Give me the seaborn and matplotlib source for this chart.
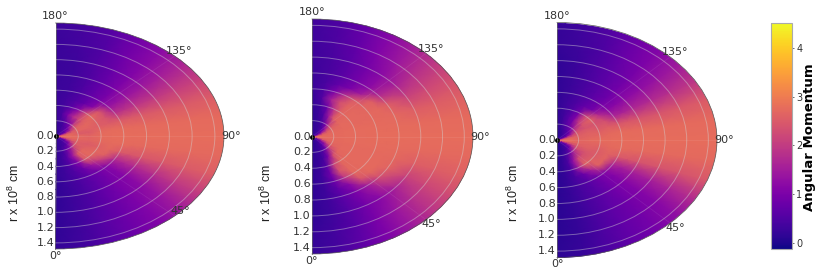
import numpy as np
import seaborn as sns
from matplotlib import pyplot as plt
from matplotlib import cm
from matplotlib.colors import Normalize

# polar grid the values were read on
theta_deg = [0, 10, 20, 30, 40, 50, 60, 70, 80, 90, 100, 110, 120, 130, 140, 150, 160, 170, 180]
radius = [0, .05, .1, .15, .2, .3, .4, .5, .6, .7, .8, 1.0, 1.2, 1.6]

r_ticks = [0, .2, .4, .6, .8, 1.0, 1.2, 1.4]
r_labels = ['0.0', '0.2', '0.4', '0.6', '0.8', '1.0', '1.2', '1.4']
theta_ticks = [0, 45, 90, 135, 180]
theta_labels = ['0°', '45°', '90°', '135°', '180°']
theta_labels_left = ['0°', '', '90°', '135°', '180°']
cbar_ticks = [0, 1, 2, 3, 4]

# angular momentum, one row per radius
am_left = [
    [.3, .3, .3, .4, .5, .8, 1.5, 2.4, 2.75, 2.78, 2.75, 2.4, 1.5, .8, .5, .4, .3, .3, .3],
    [.2, .2, .2, .3, .3, .4, .6, 1.5, 2.6, 2.78, 2.6, 1.5, .6, .4, .3, .3, .2, .2, .2],
    [.2, .2, .25, .3, .4, .5, 1, 2.2, 2.72, 2.78, 2.72, 2.2, 1, .6, .5, .4, .3, .25, .2],
    [.2, .2, .3, .4, .6, 1, 1.8, 2.5, 2.72, 2.72, 2.72, 2.5, 1.8, 1.2, .7, .5, .3, .25, .2],
    [.2, .25, .4, .8, 1.2, 2.1, 2.5, 2.6, 2.7, 2.7, 2.5, 2.65, 2.6, 2.2, 1.1, .8, .4, .3, .2],
    [.2, .3, .6, 1.4, 2.5, 2.7, 2.6, 2.5, 2.65, 2.65, 2.5, 2.65, 2.7, 2.5, 2.1, 1.7, 1, .4, .25],
    [.2, .3, .6, 1.1, 2.5, 2.7, 2.7, 2.6, 2.7, 2.75, 2.7, 2.55, 2.6, 2.75, 2.1, 1.1, .6, .35, .25],
    [.2, .3, .5, .8, 1.4, 2, 2.6, 2.7, 2.75, 2.78, 2.75, 2.5, 2.4, 2.4, 1.1, .7, .5, .35, .25],
    [.15, .3, .45, .7, .9, 1.2, 1.75, 2.5, 2.75, 2.78, 2.75, 2.5, 1.85, 1.35, .95, .7, .45, .3, .25],
    [.15, .28, .45, .65, .9, 1.15, 1.7, 2.45, 2.72, 2.78, 2.74, 2.5, 1.85, 1.35, .95, .7, .45, .3, .25],
    [.15, .28, .45, .7, .95, 1.15, 1.7, 2.45, 2.72, 2.78, 2.74, 2.5, 1.9, 1.4, 1, .7, .45, .3, .25],
    [.15, .3, .5, .75, 1, 1.25, 1.8, 2.45, 2.72, 2.78, 2.74, 2.5, 1.95, 1.45, 1.05, .75, .5, .3, .25],
    [.15, .3, .55, .8, 1.05, 1.4, 1.95, 2.5, 2.72, 2.78, 2.74, 2.5, 2.05, 1.55, 1.15, .85, .5, .35, .25],
    [.2, .35, .6, .9, 1.15, 1.6, 2.1, 2.55, 2.72, 2.78, 2.74, 2.55, 2.15, 1.7, 1.25, .9, .6, .4, .3],
]
am_middle = [
    [.3, .3, .3, .4, .5, .8, 1.5, 2.4, 2.75, 2.78, 2.75, 2.4, 1.5, .8, .5, .4, .3, .3, .3],
    [.15, .15, .2, .25, .3, .4, .7, 1.6, 2.6, 2.78, 2.6, 1.6, .7, .4, .3, .25, .2, .15, .15],
    [.15, .15, .2, .3, .4, .7, 1.4, 2.4, 2.72, 2.78, 2.72, 2.4, 1.4, .7, .4, .3, .2, .2, .15],
    [.15, .2, .25, .35, .6, 1.2, 2.1, 2.65, 2.72, 2.72, 2.72, 2.65, 2.2, 1.3, .6, .35, .25, .2, .15],
    [.15, .2, .3, .45, 1, 2.1, 2.6, 2.7, 2.72, 2.72, 2.72, 2.7, 2.6, 2.2, 1.1, .5, .3, .2, .15],
    [.15, .2, .35, 1, 2.3, 2.68, 2.72, 2.72, 2.75, 2.75, 2.75, 2.72, 2.72, 2.68, 2.5, 1.4, .5, .25, .15],
    [.15, .25, .6, 2.1, 2.68, 2.72, 2.72, 2.72, 2.75, 2.75, 2.75, 2.72, 2.7, 2.7, 2.6, 1.9, .8, .3, .2],
    [.15, .3, .9, 2.4, 2.7, 2.72, 2.72, 2.72, 2.75, 2.75, 2.75, 2.72, 2.7, 2.7, 2.65, 2.3, 1.5, .5, .2],
    [.15, .3, .8, 1.9, 2.7, 2.72, 2.72, 2.72, 2.75, 2.78, 2.75, 2.72, 2.7, 2.65, 2.5, 1.8, 1, .45, .25],
    [.15, .3, .7, 1.2, 2.4, 2.7, 2.72, 2.72, 2.75, 2.78, 2.75, 2.72, 2.7, 2.55, 1.5, 1, .7, .4, .25],
    [.15, .3, .6, 1, 1.5, 2.3, 2.65, 2.7, 2.75, 2.78, 2.75, 2.7, 2.55, 1.75, 1.2, .9, .6, .4, .25],
    [.15, .3, .55, .9, 1.2, 1.6, 2.1, 2.55, 2.72, 2.78, 2.74, 2.55, 2.1, 1.6, 1.2, .9, .6, .4, .3],
    [.2, .35, .6, 1, 1.4, 1.8, 2.2, 2.55, 2.72, 2.78, 2.74, 2.55, 2.2, 1.8, 1.4, 1.05, .7, .45, .3],
    [.2, .4, .75, 1.1, 1.5, 1.95, 2.3, 2.6, 2.72, 2.78, 2.74, 2.6, 2.35, 2, 1.6, 1.2, .8, .5, .35],
]
am_right = [
    [.3, .3, .3, .4, .5, .8, 1.5, 2.4, 2.75, 2.78, 2.75, 2.4, 1.5, .8, .5, .4, .3, .3, .3],
    [.1, .1, .15, .2, .3, .4, .7, 1.7, 2.6, 2.78, 2.6, 1.7, .7, .4, .3, .2, .15, .1, .1],
    [.1, .1, .15, .25, .3, .5, .9, 2.1, 2.72, 2.78, 2.72, 2.1, .9, .5, .4, .3, .2, .1, .1],
    [.1, .15, .2, .3, .5, .8, 1.5, 2.3, 2.72, 2.72, 2.72, 2.3, 1.5, .9, .6, .45, .3, .2, .15],
    [.1, .15, .3, .5, 1, 1.7, 2.3, 2.5, 2.65, 2.65, 2.6, 2.5, 2.3, 1.7, 1, .7, .5, .25, .15],
    [.1, .2, .45, 1.3, 2.2, 2.3, 2.4, 2.6, 2.65, 2.72, 2.65, 2.6, 2.4, 2.4, 1.9, 1, .6, .3, .15],
    [.1, .2, .5, 1.6, 2.65, 2.6, 2.5, 2.5, 2.65, 2.75, 2.65, 2.5, 2.4, 2.65, 2.1, .9, .5, .3, .15],
    [.1, .2, .45, .8, 1.5, 2.6, 2.65, 2.65, 2.72, 2.78, 2.72, 2.55, 2.3, 1.7, .9, .7, .45, .3, .15],
    [.1, .2, .4, .6, .9, 1.2, 1.7, 2.5, 2.75, 2.78, 2.75, 2.45, 1.65, 1.15, .85, .6, .4, .25, .15],
    [.1, .2, .4, .6, .85, 1.1, 1.55, 2.45, 2.72, 2.78, 2.74, 2.45, 1.6, 1.15, .8, .6, .4, .25, .15],
    [.1, .2, .4, .6, .85, 1.1, 1.55, 2.4, 2.72, 2.78, 2.74, 2.4, 1.65, 1.2, .85, .6, .4, .25, .15],
    [.1, .2, .4, .65, .85, 1.1, 1.55, 2.4, 2.72, 2.78, 2.74, 2.4, 1.7, 1.25, .9, .65, .45, .25, .15],
    [.1, .2, .45, .7, .9, 1.15, 1.65, 2.4, 2.72, 2.78, 2.74, 2.45, 1.8, 1.35, 1, .75, .45, .3, .2],
    [.15, .25, .5, .75, 1, 1.35, 1.85, 2.5, 2.72, 2.78, 2.74, 2.55, 2, 1.55, 1.15, .85, .55, .35, .2],
]

# panel centre and half sizes in pixels, then the x of its radius label
panels = [
    (am_left, theta_labels_left, 55.5, 136, 168.5, 113, 14),
    (am_middle, theta_labels, 312, 136.5, 161, 117.5, 266),
    (am_right, theta_labels, 557, 140, 160, 117.5, 513),
]

W, H = 831, 271
R_MAX = 1.48
VMIN, VMAX = -0.13, 4.5

sns.set_theme(style="white", font="DejaVu Sans")
plt.rcParams['mathtext.default'] = 'regular'
cmap = sns.color_palette("plasma", as_cmap=True)
norm = Normalize(vmin=VMIN, vmax=VMAX)

fig = plt.figure(figsize=(W / 100, H / 100), dpi=100)

for values, t_labels, cx, cy, rx, ry, label_x in panels:
    # a half wedge sits in the middle half of a polar axes box
    box = [(cx - rx / 2) / W, (H - cy - ry) / H, 2 * rx / W, 2 * ry / H]
    ax = fig.add_axes(box, projection='polar')
    ax.set_theta_zero_location('S')
    ax.set_theta_direction(1)
    ax.set_thetamin(0)
    ax.set_thetamax(180)
    ax.pcolormesh(np.deg2rad(theta_deg), radius, np.array(values), cmap=cmap,
                  norm=norm, shading='gouraud')
    ax.set_ylim(0, R_MAX)
    ax.set_aspect('auto')
    ax.set_axisbelow(False)

    ax.set_rgrids(r_ticks, labels=r_labels, angle=0)
    ax.set_thetagrids(theta_ticks, labels=t_labels)
    ax.yaxis.grid(True, color='lightgray', linewidth=0.7, alpha=0.45)
    ax.xaxis.grid(True, color='white', linewidth=0.6, alpha=0.08)
    ax.tick_params(axis='x', pad=-8, labelsize=8, colors='#333333')
    ax.tick_params(axis='y', pad=-5, labelsize=8, colors='#333333')
    for name, spine in ax.spines.items():
        spine.set_linewidth(0.5)
        spine.set_color('#555555')
    # small black dot on the origin
    ax.plot([0], [0], 'o', color='black', markersize=2.5, clip_on=False)

    fig.text(label_x / W, 1 - 193 / H, 'r x 10$^{8}$ cm', rotation=90, ha='center',
             va='center', fontsize=9, family='Liberation Sans', color='#222222')

# the 45° label of the left panel sits higher than the tick position
fig.text(180 / W, 1 - 211 / H, '45°', ha='center', va='center', fontsize=8, color='#333333')

cax = fig.add_axes([770.5 / W, (H - 249) / H, 21.5 / W, 225.5 / H])
cbar = fig.colorbar(cm.ScalarMappable(norm=norm, cmap=cmap), cax=cax, ticks=cbar_ticks)
cbar.ax.tick_params(labelsize=7, length=1.5, width=0.5, pad=1.5, colors='#333333')
cbar.outline.set_edgecolor('#aaaaaa')
cbar.outline.set_linewidth(0.8)
fig.text(809 / W, 1 - 137 / H, 'Angular Momentum', rotation=90, ha='center', va='center',
         fontsize=9.5, fontweight='bold', color='black')

fig.savefig('out.png', dpi=100)
